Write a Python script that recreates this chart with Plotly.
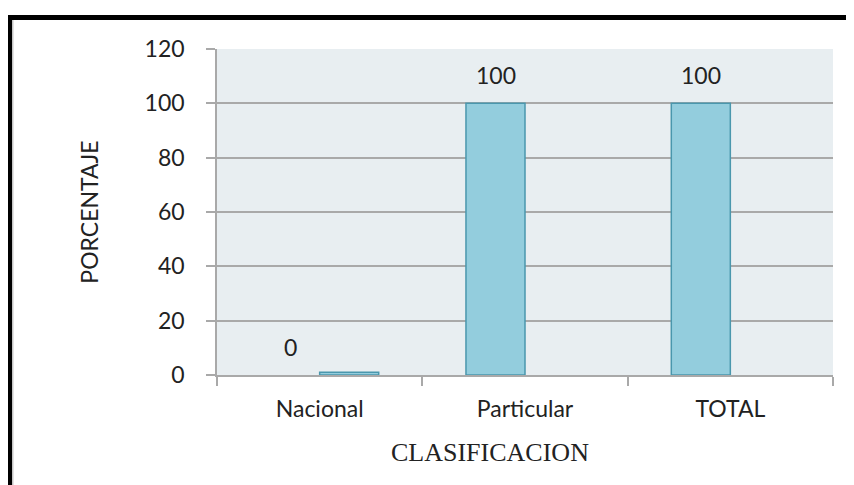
import plotly.graph_objects as go

categories = ["Nacional", "Particular", "TOTAL"]
serie_a = [0, 100, 100]
serie_b = [1, None, None]
y_ticks = [0, 20, 40, 60, 80, 100, 120]

BAR_FILL = "#93cddd"
BAR_LINE = "#4a97ad"
GRID = "#a9a9a9"
FONT = "Lato"
TXT = "#222222"

fig = go.Figure()
fig.add_trace(go.Bar(x=categories, y=serie_a, name="Serie 1",
                     marker=dict(color=BAR_FILL,
                                 line=dict(color=BAR_LINE,
                                           width=[0 if v == 0 else 1.5 for v in serie_a]))))
fig.add_trace(go.Bar(x=categories, y=serie_b, name="Serie 2",
                     marker=dict(color=BAR_FILL, line=dict(color=BAR_LINE, width=1.5))))

# data labels for first series (above its bar, the left half of each group)
for c, v in zip(categories, serie_a):
    fig.add_annotation(x=c, y=v, text=str(v), showarrow=False, xref="x", yref="y",
                       xanchor="center", yanchor="bottom", xshift=-29.5, yshift=12,
                       font=dict(family=FONT, size=23, color=TXT))

# page body has an 8px margin; figure sits at (8, 8)
OFF = 8
W, H = 854 - OFF, 485 - OFF
L, T = 217 - OFF, 49 - OFF
pw, ph = 616, 326
R, B = W - L - pw, H - T - ph

def px_x(p):
    return (p - OFF - L) / pw

def px_y(p):
    return 1 - (p - OFF - T) / ph

# outer black frame (top and left visible)
fig.add_shape(type="rect", xref="paper", yref="paper",
              x0=px_x(9.5), x1=px_x(880), y0=px_y(17.5), y1=px_y(510),
              line=dict(color="black", width=5), fillcolor="rgba(0,0,0,0)", layer="above")
fig.add_shape(type="line", xref="paper", yref="paper",
              x0=px_x(12.8), x1=px_x(12.8), y0=px_y(20), y1=px_y(510),
              line=dict(color="#b8b8b8", width=1.2), layer="above")

# x axis title (sits left of the plot centre in the original)
fig.add_annotation(text="CLASIFICACION", xref="paper", yref="paper",
                   x=px_x(490), y=px_y(452), xanchor="center", yanchor="middle",
                   showarrow=False,
                   font=dict(family="Liberation Serif", size=26, color=TXT))

fig.update_layout(
    width=W, height=H, autosize=False,
    margin=dict(l=L, r=R, t=T, b=B, pad=0),
    paper_bgcolor="white", plot_bgcolor="#e8eef1",
    barmode="group", bargap=0.425, bargroupgap=0,
    showlegend=False,
    font=dict(family=FONT, size=23, color=TXT),
    xaxis=dict(
        type="category", tickson="boundaries", ticks="outside", ticklen=9,
        tickcolor=GRID, tickwidth=1.5, showline=True, linecolor=GRID, linewidth=1.5,
        showgrid=False, tickfont=dict(family=FONT, size=23, color=TXT),
        ticklabelstandoff=13,
    ),
    yaxis=dict(
        range=[0, 120], tickvals=y_ticks, ticks="outside", ticklen=9,
        tickcolor=GRID, tickwidth=1.5, showline=True, linecolor=GRID, linewidth=1.5,
        showgrid=True, gridcolor=GRID, gridwidth=1.5, zeroline=False,
        tickfont=dict(family=FONT, size=23, color=TXT),
        ticklabelstandoff=17,
        title=dict(text="PORCENTAJE", font=dict(family=FONT, size=23, color=TXT),
                   standoff=40),
    ),
)

fig.write_html("out.html")
